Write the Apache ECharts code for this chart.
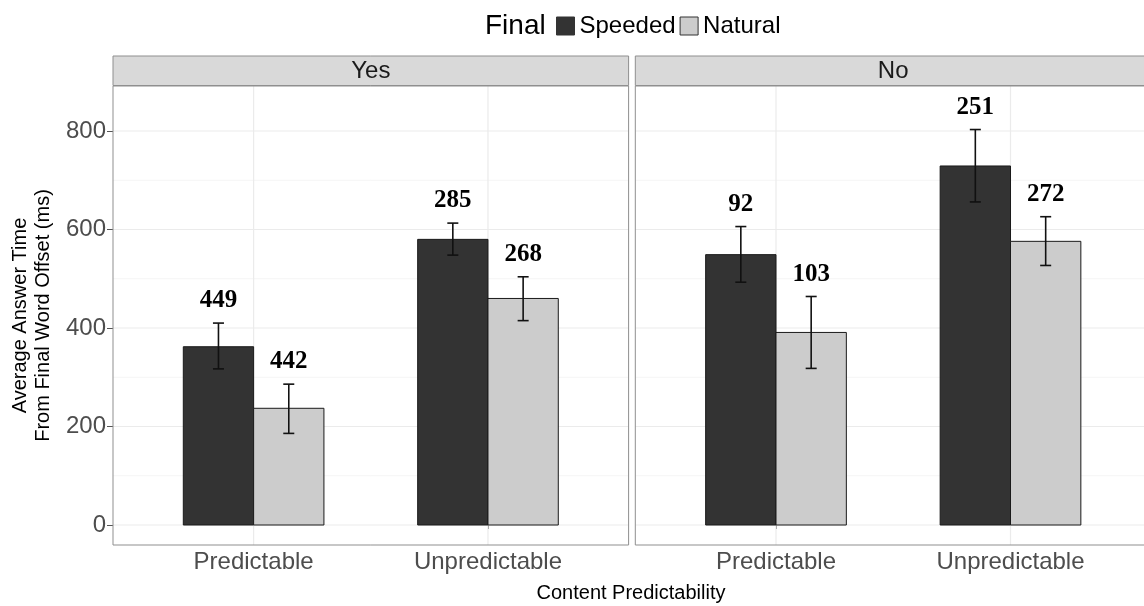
<!DOCTYPE html>
<html>
<head>
<meta charset="utf-8">
<script src="https://cdn.jsdelivr.net/npm/echarts@6/dist/echarts.min.js"></script>
<style>
html,body{margin:0;padding:0;background:#fff;}
#chart{width:1144px;height:606px;}
</style>
</head>
<body>
<div id="chart"></div>
<script>
// ---- data ----
const facets = ['Yes', 'No'];
const categories = ['Predictable', 'Unpredictable'];
const groups = ['Speeded', 'Natural'];

const yesSpeededMean = [362, 580];
const yesSpeededLow  = [317, 548];
const yesSpeededHigh = [410, 613];
const yesSpeededN    = [449, 285];

const yesNaturalMean = [237, 460];
const yesNaturalLow  = [186, 415];
const yesNaturalHigh = [286, 504];
const yesNaturalN    = [442, 268];

const noSpeededMean = [549, 729];
const noSpeededLow  = [493, 656];
const noSpeededHigh = [606, 803];
const noSpeededN    = [92, 251];

const noNaturalMean = [391, 576];
const noNaturalLow  = [318, 527];
const noNaturalHigh = [464, 626];
const noNaturalN    = [103, 272];

const yTicks = [0, 200, 400, 600, 800];
const yMinorGrid = [100, 300, 500, 700];
const xTicks = [1, 2];

// ---- helpers ----
function rows(mean, low, high, n) {
  return categories.map((c, i) => [i + 1, mean[i], low[i], high[i], n[i]]);
}
const SANS = "'Liberation Sans', Arial, Helvetica, sans-serif";
const SERIF = "'Liberation Serif', 'Times New Roman', serif";
const colors = { Speeded: '#333333', Natural: '#cccccc' };
const YMIN = -40.6, YMAX = 891.4;

function barRender(side) {
  return function (params, api) {
    const cat = api.value(0);
    const v = api.value(1);
    const lo = api.value(2);
    const hi = api.value(3);
    const n = api.value(4);
    const x0 = side < 0 ? cat - 0.3 : cat;
    const x1 = x0 + 0.3;
    const xc = (x0 + x1) / 2;
    const pTop = api.coord([x0, v]);
    const pBot = api.coord([x1, 0]);
    const pHi = api.coord([xc, hi]);
    const pLo = api.coord([xc, lo]);
    const wl = api.coord([xc - 0.0235, hi])[0];
    const wr = api.coord([xc + 0.0235, hi])[0];
    const pLab = api.coord([xc, hi + 45]);
    const errStyle = { stroke: '#111', lineWidth: 1.6 };
    return {
      type: 'group',
      children: [
        { type: 'rect', shape: { x: pTop[0], y: pTop[1], width: pBot[0] - pTop[0], height: pBot[1] - pTop[1] },
          style: { fill: api.visual('color'), stroke: '#1a1a1a', lineWidth: 1 } },
        { type: 'line', shape: { x1: pHi[0], y1: pHi[1], x2: pLo[0], y2: pLo[1] }, style: errStyle },
        { type: 'line', shape: { x1: wl, y1: pHi[1], x2: wr, y2: pHi[1] }, style: errStyle },
        { type: 'line', shape: { x1: wl, y1: pLo[1], x2: wr, y2: pLo[1] }, style: errStyle },
        { type: 'text', x: pLab[0], y: pLab[1],
          style: { text: String(n), fill: '#000', font: 'bold 25px ' + SERIF, align: 'center', verticalAlign: 'middle' } }
      ]
    };
  };
}

function hGridRender(params, api) {
  const v = api.value(0);
  const a = api.coord([0.4, v]);
  const b = api.coord([2.6, v]);
  const major = yTicks.indexOf(v) >= 0;
  return { type: 'line', shape: { x1: a[0], y1: a[1], x2: b[0], y2: b[1] },
    style: { stroke: major ? '#ebebeb' : '#f3f3f3', lineWidth: major ? 1.2 : 0.8 } };
}
function vGridRender(params, api) {
  const v = api.value(0);
  const a = api.coord([v, YMIN]);
  const b = api.coord([v, YMAX]);
  return { type: 'line', shape: { x1: a[0], y1: a[1], x2: b[0], y2: b[1] },
    style: { stroke: '#ebebeb', lineWidth: 1.2 } };
}

// panel geometry: 234.5 px per category unit; second panel runs past the right edge
const UNIT = 234.5;
const panels = [
  { left: 113, width: 515.6, xmax: 2.6 },
  { left: 635.3, width: 1144 - 635.3, xmax: 0.4 + (1144 - 635.3) / UNIT }
];
const PTOP = 86, PBOT = 545;

const grids = panels.map(p => ({
  left: p.left, width: p.width, top: PTOP, height: PBOT - PTOP,
  show: true, backgroundColor: '#fff', borderWidth: 0
}));

const xAxes = panels.map((p, i) => ({
  gridIndex: i, type: 'value', min: 0.4, max: p.xmax,
  axisLine: { show: false }, splitLine: { show: false },
  axisTick: { show: true, customValues: xTicks, length: 4, lineStyle: { color: '#555' } },
  axisLabel: { customValues: xTicks, formatter: v => categories[Math.round(v) - 1],
    fontSize: 24, color: '#4d4d4d', fontFamily: SANS, margin: 5 }
}));

const yAxes = panels.map((p, i) => ({
  gridIndex: i, type: 'value', min: YMIN, max: YMAX,
  axisLine: { show: false }, splitLine: { show: false },
  axisTick: { show: i === 0, customValues: yTicks, length: 6, lineStyle: { color: '#555' } },
  axisLabel: { show: i === 0, customValues: yTicks, fontSize: 24, color: '#4d4d4d', fontFamily: SANS, margin: 7 },
  name: i === 0 ? 'Average Answer Time\nFrom Final Word Offset (ms)' : '',
  nameLocation: 'middle', nameRotate: 90, nameGap: 58,
  nameTextStyle: { fontSize: 20, color: '#000', fontFamily: SANS, lineHeight: 23 }
}));

const series = [];
[0, 1].forEach(i => {
  series.push({ type: 'custom', name: 'hgrid' + i, xAxisIndex: i, yAxisIndex: i, silent: true, z: 1,
    renderItem: hGridRender, data: yTicks.concat(yMinorGrid).map(v => [v]) });
  series.push({ type: 'custom', name: 'vgrid' + i, xAxisIndex: i, yAxisIndex: i, silent: true, z: 1,
    renderItem: vGridRender, data: xTicks.map(v => [v]) });
});
series.push({ type: 'custom', name: 'Speeded', xAxisIndex: 0, yAxisIndex: 0, z: 3,
  itemStyle: { color: colors.Speeded }, renderItem: barRender(-1),
  data: rows(yesSpeededMean, yesSpeededLow, yesSpeededHigh, yesSpeededN) });
series.push({ type: 'custom', name: 'Natural', xAxisIndex: 0, yAxisIndex: 0, z: 3,
  itemStyle: { color: colors.Natural }, renderItem: barRender(1),
  data: rows(yesNaturalMean, yesNaturalLow, yesNaturalHigh, yesNaturalN) });
series.push({ type: 'custom', name: 'Speeded', xAxisIndex: 1, yAxisIndex: 1, z: 3,
  itemStyle: { color: colors.Speeded }, renderItem: barRender(-1),
  data: rows(noSpeededMean, noSpeededLow, noSpeededHigh, noSpeededN) });
series.push({ type: 'custom', name: 'Natural', xAxisIndex: 1, yAxisIndex: 1, z: 3,
  itemStyle: { color: colors.Natural }, renderItem: barRender(1),
  data: rows(noNaturalMean, noNaturalLow, noNaturalHigh, noNaturalN) });

const BORDER = '#8f8f8f';
const graphics = [];
// panel 1 border (full), panel 2 border (open at right, cut by the edge)
graphics.push({ type: 'rect', z: 10, silent: true,
  shape: { x: 113, y: PTOP, width: 515.6, height: PBOT - PTOP }, style: { fill: null, stroke: BORDER, lineWidth: 1 } });
graphics.push({ type: 'polyline', z: 10, silent: true,
  shape: { points: [[1150, PTOP], [635.3, PTOP], [635.3, PBOT], [1150, PBOT]] },
  style: { fill: null, stroke: BORDER, lineWidth: 1 } });
const stripW = [515.6, 520];
panels.forEach((p, i) => {
  graphics.push({ type: 'rect', z: 10, silent: true,
    shape: { x: p.left, y: 56, width: stripW[i], height: 29.5 },
    style: { fill: '#d9d9d9', stroke: BORDER, lineWidth: 1 } });
  graphics.push({ type: 'text', x: p.left + (i === 0 ? 515.6 : 515.7) / 2, y: 71, z: 11,
    style: { text: facets[i], fill: '#1a1a1a', font: '24px ' + SANS, align: 'center', verticalAlign: 'middle' } });
});
graphics.push({ type: 'text', x: 631, y: 593, z: 11,
  style: { text: 'Content Predictability', fill: '#000', font: '20px ' + SANS, align: 'center', verticalAlign: 'middle' } });
graphics.push({ type: 'text', x: 485, y: 26, z: 11,
  style: { text: 'Final', fill: '#000', font: '28px ' + SANS, align: 'left', verticalAlign: 'middle' } });

const option = {
  backgroundColor: '#fff',
  animation: false,
  grid: grids,
  xAxis: xAxes,
  yAxis: yAxes,
  legend: {
    left: 556, top: 14, padding: 0, itemWidth: 18, itemHeight: 18, itemGap: 4,
    selectedMode: false,
    textStyle: { fontSize: 24, color: '#000', fontFamily: SANS },
    data: groups.map(g => ({ name: g, icon: 'rect',
      itemStyle: { color: colors[g], borderColor: '#333', borderWidth: 1 } }))
  },
  graphic: graphics,
  series: series
};

const chart = echarts.init(document.getElementById('chart'), null, { renderer: 'canvas' });
chart.setOption(option);
</script>
</body>
</html>
